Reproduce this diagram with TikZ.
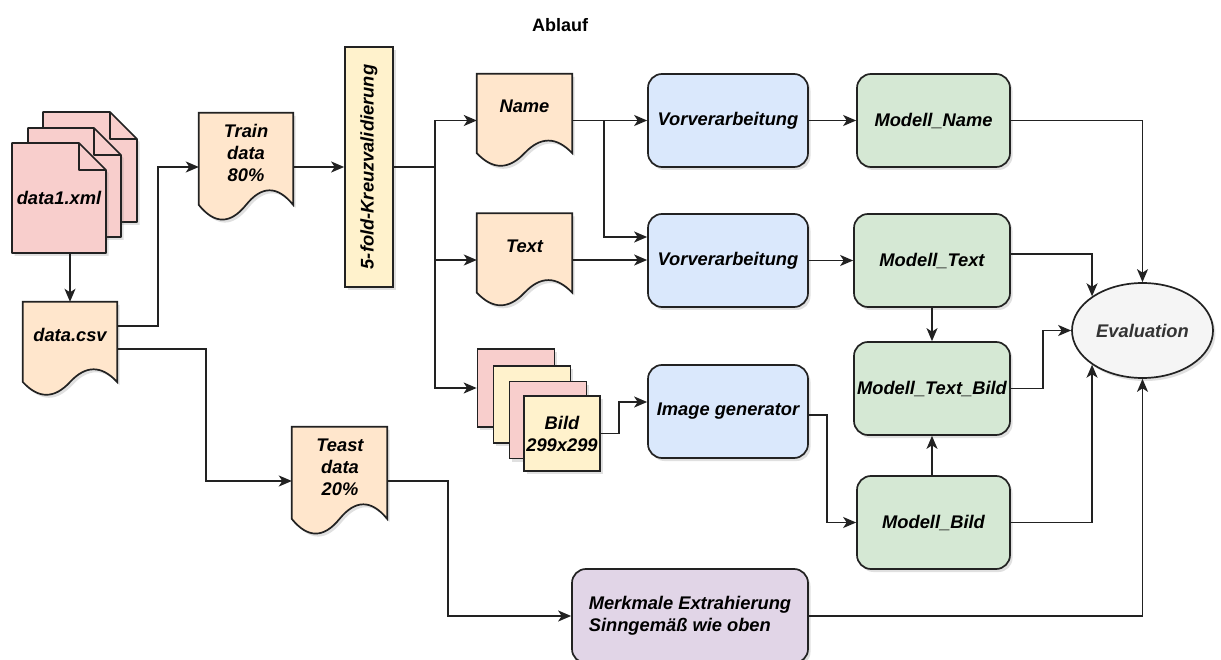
\documentclass[tikz,border=0pt]{standalone}
\usepackage{fontspec}
\setmainfont{Liberation Sans}
\usetikzlibrary{arrows.meta,calc,shadows,shapes.geometric}

\definecolor{ink}{HTML}{222222}
\definecolor{pinkf}{HTML}{F8CECC}
\definecolor{peachf}{HTML}{FFE6CC}
\definecolor{yellowf}{HTML}{FFF2CC}
\definecolor{bluef}{HTML}{DAE8FC}
\definecolor{greenf}{HTML}{D5E8D4}
\definecolor{purplef}{HTML}{E1D5E7}
\definecolor{grayf}{HTML}{F5F5F5}
\definecolor{evaltext}{HTML}{333333}

\newcommand\lbl{\fontsize{18.3}{22}\selectfont\bfseries\itshape}

\tikzset{
  shd/.style={drop shadow={shadow xshift=2.5pt,shadow yshift=-3pt,opacity=.2,fill=black!60}},
  box/.style={draw=ink, line width=1.7pt, inner sep=0pt, font=\lbl, align=center, shd},
  proc/.style={box, rounded corners=14pt},
  ghost/.style={inner sep=0pt, font=\lbl, align=center},
  arr/.style={draw=ink, line width=1.5pt, -{Stealth[length=13pt,width=11pt,inset=3.5pt]}},
}

% document shape with a wavy bottom edge, drawn over the frame of node #1
\newcommand\docshape[2]{%
  \filldraw[fill=#2, draw=ink, line width=1.7pt, shd]
    let \p1=(#1.north west), \p2=(#1.south east),
        \n1={\x2-\x1}, \n2={0.3*(\y1-\y2)} in
    (\x1,\y1) -- (\x2,\y1) -- (\x2,\y2+0.5*\n2)
    .. controls (\x2-\n1/6,\y2+1.1*\n2) and (\x1+2*\n1/3,\y2+1.1*\n2) .. (\x1+0.5*\n1,\y2+0.5*\n2)
    .. controls (\x1+\n1/3,\y2-0.1*\n2) and (\x1+\n1/6,\y2-0.1*\n2) .. (\x1,\y2+0.5*\n2) -- cycle;}

% sheet with a folded top-right corner
\newcommand\pagesheet[4]{%
  \filldraw[fill=pinkf, draw=ink, line width=1.7pt, line join=round, shd]
    (#1,#2) -- (#3-27,#2) -- (#3,#2+27) -- (#3,#4) -- (#1,#4) -- cycle;
  \draw[ink, line width=1.7pt, line join=round] (#3-27,#2) -- (#3-27,#2+27) -- (#3,#2+27);}

\begin{document}
\begin{tikzpicture}[x=1pt, y=-1pt]
\fill[white] (0,0) rectangle (1221,660);
\useasboundingbox (0,0) rectangle (1221,660);

% title
\node[font=\fontsize{18}{22}\selectfont\bfseries] (title) at (560,25) {Ablauf};

% input files
\pagesheet{43}{112}{137}{222}
\pagesheet{28}{128}{121}{237}
\pagesheet{12}{143}{106}{253}
\node[ghost, minimum width=94pt, minimum height=110pt] (xml) at (59,198) {data1.xml};

% data documents
\node[ghost, minimum width=94pt, minimum height=94pt] (csv) at (70,349) {};
\docshape{csv}{peachf}
\node[ghost] (csv-t) at (70,335) {data.csv};

\node[ghost, minimum width=94pt, minimum height=108pt] (train) at (246,167) {};
\docshape{train}{peachf}
\node[ghost] (train-t) at (246,153) {Train\\data\\80\%};

\node[ghost, minimum width=95pt, minimum height=108pt] (teast) at (339.5,481) {};
\docshape{teast}{peachf}
\node[ghost] (teast-t) at (340,467) {Teast\\data\\20\%};

\node[ghost, minimum width=95pt, minimum height=93pt] (name) at (524.5,120.5) {};
\docshape{name}{peachf}
\node[ghost] (name-t) at (524.5,106) {Name};

\node[ghost, minimum width=95pt, minimum height=93pt] (textdoc) at (524.5,260) {};
\docshape{textdoc}{peachf}
\node[ghost] (textdoc-t) at (524.5,246) {Text};

% cross validation
\node[box, fill=yellowf, minimum width=48pt, minimum height=240pt] (kfold) at (369,167)
  {\rotatebox{90}{5-fold-Kreuzvalidierung}};

% image stack
\node[box, fill=pinkf,   minimum width=77pt, minimum height=78pt] (bild1) at (516,388) {};
\node[box, fill=yellowf, minimum width=77pt, minimum height=77pt] (bild2) at (532,404.5) {};
\node[box, fill=pinkf,   minimum width=77pt, minimum height=77pt] (bild3) at (548,420) {};
\node[box, fill=yellowf, minimum width=76pt, minimum height=75pt] (bild4) at (562,433.5) {Bild\\299x299};

% processing
\node[proc, fill=bluef, minimum width=160pt, minimum height=93pt] (vorv1) at (728,120.5) {Vorverarbeitung};
\node[proc, fill=bluef, minimum width=160pt, minimum height=93pt] (vorv2) at (728,260.5) {Vorverarbeitung};
\node[proc, fill=bluef, minimum width=160pt, minimum height=93pt] (imggen) at (728,411.5) {Image generator};
\node[proc, fill=purplef, minimum width=236pt, minimum height=94pt, align=left] (merk) at (690,616)
  {Merkmale Extrahierung\\Sinngemäß wie oben};

% models
\node[proc, fill=greenf, minimum width=153pt, minimum height=93pt] (mname) at (933.5,120.5) {Modell\_Name};
\node[proc, fill=greenf, minimum width=156pt, minimum height=93pt] (mtext) at (932,260.5) {Modell\_Text};
\node[proc, fill=greenf, minimum width=156pt, minimum height=93pt] (mtb) at (932,388.5) {Modell\_Text\_Bild};
\node[proc, fill=greenf, minimum width=153pt, minimum height=93pt] (mbild) at (933.5,522.5) {Modell\_Bild};

% evaluation
\node[ellipse, draw=ink, line width=1.7pt, fill=grayf, inner sep=0pt, shd,
      minimum width=141pt, minimum height=95pt, font=\lbl, text=evaltext] (eval) at (1142.5,330.5) {Evaluation};

% connectors
\draw[arr] (csv.north |- xml.south) -- (csv.north);
\draw[arr] ($(csv.east)+(0,-23)$) -- ++(41,0) |- (train.west);
\draw[arr] (csv.east) -- ++(89,0) |- (teast.west);
\draw[arr] (train.east) -- (kfold.west);
\draw[arr] (kfold.east) -- ++(41,0) coordinate (split) |- (name.west);
\draw[arr] (split) |- (textdoc.west);
\draw[arr] (split) |- (bild1.west);
\draw[arr] (name.east) -- (vorv1.west);
\draw[arr] (name.east) -- ++(32,0) |- ($(vorv2.west)+(0,-23.5)$);
\draw[arr] (textdoc.east) -- (textdoc.east -| vorv2.west);
\draw[arr] (vorv1.east) -- (mname.west);
\draw[arr] (vorv2.east) -- (mtext.west);
\draw[arr] (bild4.east) -- ++(18,0) |- ($(imggen.west)+(0,-9.5)$);
\draw[arr] ($(imggen.east)+(0,3.5)$) -- ++(18,0) |- (mbild.west);
\draw[arr] (teast.east) -- ++(61,0) |- (merk.west);
\draw[arr] (mtext.south) -- (mtb.north);
\draw[arr] (mtb.south |- mbild.north) -- (mtb.south);
\draw[arr] (mname.east) -| (eval.north);
\draw[arr] ($(mtext.east)+(0,-6.5)$) -| (eval.north west);
\draw[arr] (mtb.east) -- ++(32,0) |- (eval.west);
\draw[arr] (mbild.east) -| (eval.south west);
\draw[arr] (merk.east) -| (eval.south);
\end{tikzpicture}
\end{document}
